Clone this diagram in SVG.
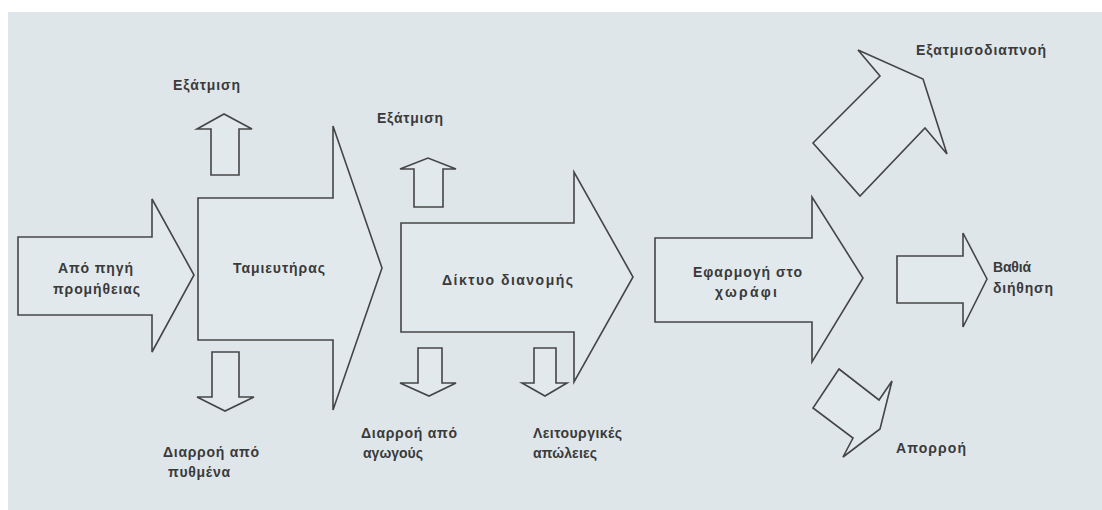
<svg xmlns="http://www.w3.org/2000/svg" width="1102" height="510" viewBox="0 0 1102 510">
<style>
.bg{fill:#dfe6ea}
.ar{fill:#e2e9ed;stroke:#454545;stroke-width:1.6;stroke-linejoin:miter}
.t{font-family:"Liberation Sans",Arial,sans-serif;font-size:14px;font-weight:bold;fill:#3a3a3a}
</style>
<rect width="1102" height="510" fill="#ffffff"/>
<rect class="bg" x="8" y="12" width="1094" height="498"/>
<g id="connectors"></g>
<g id="source">
<polygon class="ar" points="18,237 152,237 152,199 194,275 152,352 152,315 18,315"/>
<text class="t" x="58" y="273" textLength="75" lengthAdjust="spacing">Από πηγή</text>
<text class="t" x="53" y="294" textLength="87" lengthAdjust="spacing">προμήθειας</text>
</g>
<g id="reservoir">
<polygon class="ar" points="198,198 333,198 333,126 382,268 333,410 333,340 198,340"/>
<text class="t" x="233" y="273" textLength="92" lengthAdjust="spacing">Ταμιευτήρας</text>
</g>
<g id="network">
<polygon class="ar" points="401,223 574,223 574,172 633,277 574,382 574,332 401,332"/>
<text class="t" x="442" y="285" textLength="131" lengthAdjust="spacing">Δίκτυο διανομής</text>
</g>
<g id="field">
<polygon class="ar" points="655,238 812,238 812,197 863,278 812,362 812,322 655,322"/>
<text class="t" x="693" y="277" textLength="109" lengthAdjust="spacing">Εφαρμογή στο</text>
<text class="t" x="715" y="297" textLength="62" lengthAdjust="spacing">χωράφι</text>
</g>
<g id="deep-percolation">
<polygon class="ar" points="897,256 963,256 963,233 987,279 963,327 963,303 897,303"/>
<text class="t" x="993" y="272" textLength="38" lengthAdjust="spacing">Βαθιά</text>
<text class="t" x="993" y="293" textLength="60" lengthAdjust="spacing">διήθηση</text>
</g>
<g id="evapotranspiration">
<polygon class="ar" points="923,79 947,154 925,128 860,196 813,143 880,76 858,50"/>
<text class="t" x="916" y="55" textLength="130" lengthAdjust="spacing">Εξατμισοδιαπνοή</text>
</g>
<g id="runoff">
<polygon class="ar" points="839,369 879,400 892,381 880,429 843,457 853,438 813,408"/>
<text class="t" x="896" y="453" textLength="70" lengthAdjust="spacing">Απορροή</text>
</g>
<g id="evap-reservoir">
<polygon class="ar" points="211,175 211,129 197,129 224,114 252,129 239,129 239,175"/>
<text class="t" x="173" y="90" textLength="67" lengthAdjust="spacing">Εξάτμιση</text>
</g>
<g id="evap-network">
<polygon class="ar" points="414,207 414,169 400,169 428,158 456,169 443,169 443,207"/>
<text class="t" x="377" y="123" textLength="66" lengthAdjust="spacing">Εξάτμιση</text>
</g>
<g id="seepage-bottom">
<polygon class="ar" points="212,352 239,352 239,397 254,397 225,411 197,397 212,397"/>
<text class="t" x="163" y="457" textLength="96" lengthAdjust="spacing">Διαρροή από</text>
<text class="t" x="168" y="477" textLength="62" lengthAdjust="spacing">πυθμένα</text>
</g>
<g id="seepage-pipes">
<polygon class="ar" points="418,348 442,348 442,383 456,383 429,396 400,383 418,383"/>
<text class="t" x="361" y="438" textLength="96" lengthAdjust="spacing">Διαρροή από</text>
<text class="t" x="363" y="458" textLength="60" lengthAdjust="spacing">αγωγούς</text>
</g>
<g id="operational-losses">
<polygon class="ar" points="534,348 556,348 556,383 567,383 545,396 522,383 534,383"/>
<text class="t" x="533" y="438" textLength="89" lengthAdjust="spacing">Λειτουργικές</text>
<text class="t" x="533" y="458" textLength="64" lengthAdjust="spacing">απώλειες</text>
</g>
</svg>
